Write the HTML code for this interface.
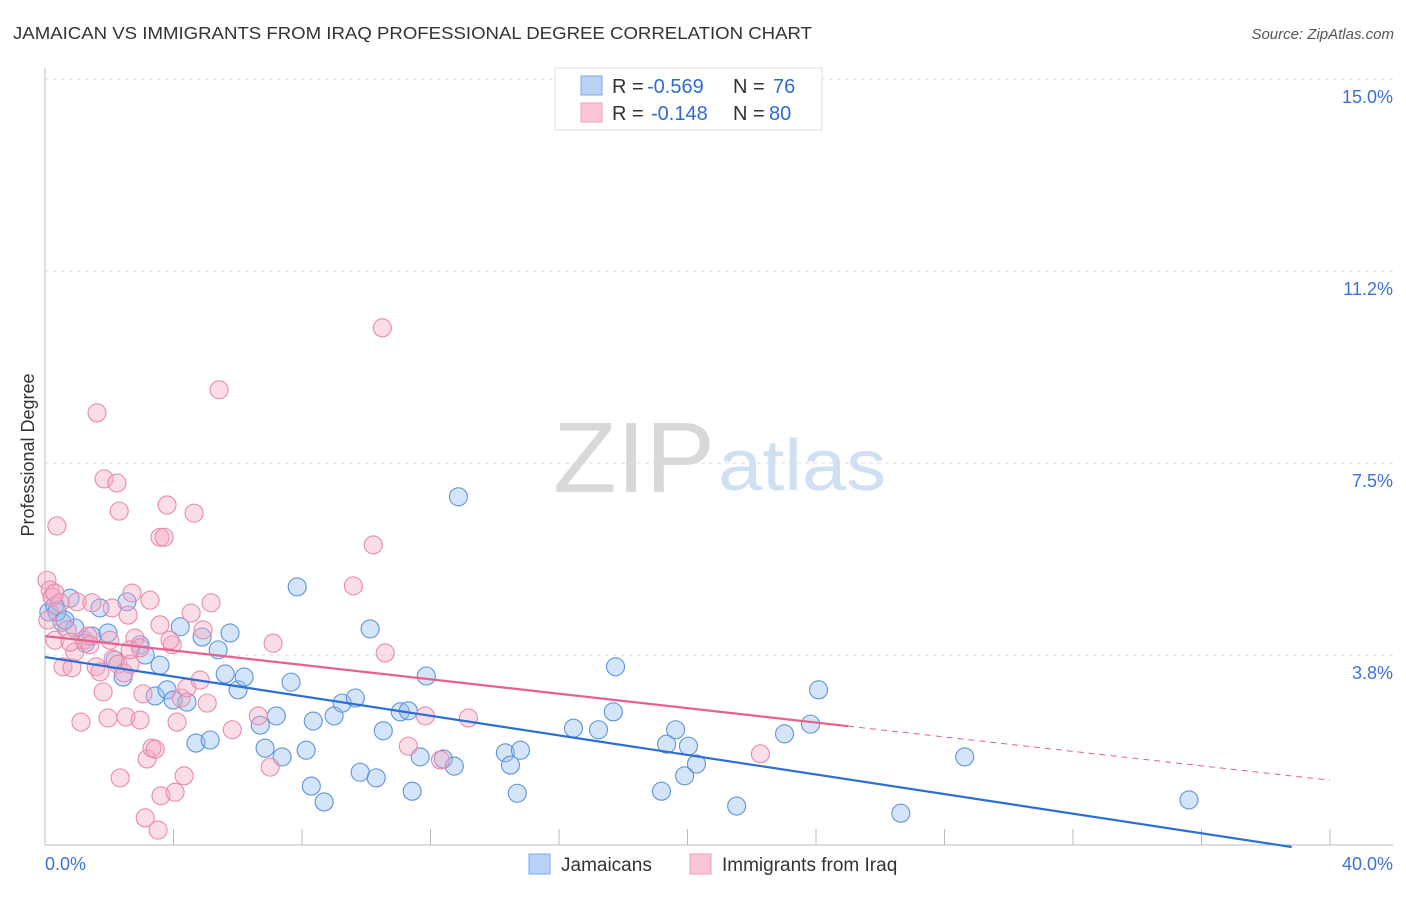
<!DOCTYPE html>
<html><head><meta charset="utf-8"><style>
body{margin:0;background:#fff;font-family:"Liberation Sans",sans-serif;}
svg text{font-family:"Liberation Sans",sans-serif;}
</style></head><body>
<svg id="chart" width="1406" height="892" viewBox="0 0 1406 892" xmlns="http://www.w3.org/2000/svg">
<text x="13" y="39" font-size="17.5" fill="#333" textLength="799" lengthAdjust="spacingAndGlyphs">JAMAICAN VS IMMIGRANTS FROM IRAQ PROFESSIONAL DEGREE CORRELATION CHART</text>
<text x="1394" y="39" font-size="15" fill="#555" font-style="italic" text-anchor="end">Source: ZipAtlas.com</text>
<g>
<text x="553" y="492" font-size="100" fill="#d8d8d8" textLength="162" lengthAdjust="spacingAndGlyphs" font-family="Liberation Serif, serif">ZIP</text>
<text x="718" y="490" font-size="72" fill="#cfe0f4" textLength="168" lengthAdjust="spacingAndGlyphs">atlas</text>
</g>
<g id="grid"></g><g id="axes"></g><g id="marks"></g>
<text transform="translate(34,455) rotate(-90)" font-size="18" fill="#333" text-anchor="middle">Professional Degree</text>
<g>
<rect x="555" y="68" width="267" height="62" fill="#fff" stroke="#ddd"/>
<rect x="581" y="76" width="21" height="19" fill="#b7d2f5" stroke="#7eaae6"/>
<rect x="581" y="103" width="21" height="19" fill="#fac5d4" stroke="#eea0b8"/>
<text x="612" y="93" font-size="20" fill="#333">R = <tspan fill="#2e6bd0" x="647">-0.569</tspan><tspan x="733">N = </tspan><tspan fill="#2e6bd0" x="773">76</tspan></text>
<text x="612" y="120" font-size="20" fill="#333">R = <tspan fill="#2e6bd0" x="651">-0.148</tspan><tspan x="733">N = </tspan><tspan fill="#2e6bd0" x="769">80</tspan></text>
</g>
<g>
<rect x="529" y="854" width="21" height="20" fill="#b7d2f5" stroke="#7eaae6"/>
<text x="561" y="871" font-size="19" fill="#333">Jamaicans</text>
<rect x="690" y="854" width="21" height="20" fill="#fac5d4" stroke="#eea0b8"/>
<text x="722" y="871" font-size="19" fill="#333">Immigrants from Iraq</text>
</g>
</svg>
<script>
const yTicks=[3.75,7.5,11.25,15];
const yTickLabels=["3.8%","7.5%","11.2%","15.0%"];
const blueX=[0.12,0.31,0.53,0.78,0.93,1.25,1.46,1.71,1.96,2.18,2.43,2.55,2.96,3.12,3.43,3.58,3.80,3.99,4.21,4.42,4.70,4.89,5.14,5.39,5.61,5.76,6.01,6.20,6.70,6.85,7.20,7.38,7.66,7.85,8.13,8.29,8.35,8.69,9.00,9.25,9.66,9.81,10.12,10.31,10.53,11.06,11.31,11.43,11.68,11.87,12.40,12.74,12.87,14.33,14.49,14.70,14.80,16.45,17.23,17.69,17.76,19.19,19.35,19.63,19.91,20.03,20.28,21.53,23.02,23.83,24.08,26.64,28.63,35.61,0.37,0.62];
const blueY=[4.59,4.71,4.39,4.86,4.28,3.98,4.12,4.67,4.18,3.65,3.32,4.79,3.95,3.75,2.95,3.55,3.07,2.87,4.30,2.83,2.03,4.10,2.09,3.85,3.38,4.18,3.07,3.32,2.38,1.93,2.56,1.76,3.22,5.08,1.89,1.19,2.46,0.88,2.56,2.81,2.91,1.46,4.26,1.35,2.27,2.64,2.66,1.09,1.76,3.34,1.72,1.58,6.84,1.84,1.60,1.05,1.89,2.32,2.29,2.64,3.52,1.09,2.01,2.29,1.39,1.97,1.62,0.80,2.21,2.40,3.07,0.66,1.76,0.92,4.59,4.43];
const pinkX=[0.06,0.16,0.22,0.31,0.37,0.47,0.56,0.69,0.84,0.93,1.00,1.12,1.21,1.34,1.46,1.59,1.62,1.81,1.84,1.96,2.09,2.12,2.24,2.27,2.31,2.34,2.46,2.52,2.59,2.65,2.71,2.80,2.96,3.05,3.12,3.18,3.27,3.33,3.43,3.58,3.61,3.71,3.52,3.80,3.96,4.05,4.11,4.24,4.33,4.42,4.55,4.64,4.92,5.05,5.17,5.42,5.83,6.64,7.01,7.10,9.60,10.22,10.50,10.59,11.31,11.84,12.31,13.18,22.27,3.58,0.09,0.31,0.78,1.40,2.02,2.65,1.71,2.96,3.89,4.83];
const pinkY=[5.21,5.02,4.88,4.96,6.27,4.77,3.52,4.24,3.50,3.81,4.79,2.44,4.04,4.12,4.77,3.52,8.48,3.03,7.19,2.52,4.67,3.67,7.11,3.57,6.56,1.35,3.40,2.54,4.53,3.57,4.96,4.08,3.89,2.99,0.57,1.72,4.82,1.93,1.91,6.05,1.00,6.05,0.33,6.68,3.95,1.07,2.44,2.91,1.39,3.11,4.57,6.52,4.24,2.81,4.77,8.93,2.29,2.56,1.56,3.98,5.10,5.90,10.14,3.79,1.97,2.56,1.70,2.52,1.82,4.34,4.43,4.04,4.00,3.95,4.04,3.85,3.42,2.48,4.04,3.26];
const blueTrend=[3.71,-0.0956];
const pinkTrend=[4.12,-0.0704];
const pinkSolidEnd=25;
const NS="http://www.w3.org/2000/svg";
const X0=45,PXX=32.125,Y0=847,PXY=51.2;
function sx(v){return X0+v*PXX;}
function sy(v){return Y0-v*PXY;}
function mk(tag,attrs,parent){const e=document.createElementNS(NS,tag);for(const k in attrs)e.setAttribute(k,attrs[k]);parent.appendChild(e);return e;}
const grid=document.getElementById('grid'),axes=document.getElementById('axes'),marks=document.getElementById('marks');
yTicks.forEach((t,i)=>{
 const l=mk('line',{x1:45,x2:1393,y1:sy(t),y2:sy(t),stroke:'#ddd','stroke-dasharray':'4,4'},grid);
 
 
 const tx=mk('text',{x:1393,y:sy(t)+24,'font-size':18,fill:'#3a73d4','text-anchor':'end'},axes);
 tx.textContent=yTickLabels[i];
 
 
});
const la=mk('line',{x1:45,x2:45,y1:68,y2:845,stroke:'#bbb'},axes);


const ba=mk('line',{x1:45,x2:1393,y1:845,y2:845,stroke:'#bbb'},axes);


for(let v=4;v<=40;v+=4){
 const t=mk('line',{x1:sx(v),x2:sx(v),y1:829,y2:845,stroke:'#bbb'},axes);
 
 
}
const xl0=mk('text',{x:45,y:870,'font-size':18,fill:'#3a73d4'},axes);xl0.textContent='0.0%';


const xl1=mk('text',{x:1393,y:870,'font-size':18,fill:'#3a73d4','text-anchor':'end'},axes);xl1.textContent='40.0%';


blueX.forEach((x,i)=>{
 const c=mk('circle',{cx:sx(x),cy:sy(blueY[i]),r:9,fill:'rgba(150,190,240,0.4)',stroke:'#5e93dc','stroke-width':1.1},marks);
 
 
});
pinkX.forEach((x,i)=>{
 const c=mk('circle',{cx:sx(x),cy:sy(pinkY[i]),r:9,fill:'rgba(245,170,195,0.4)',stroke:'#e98aab','stroke-width':1.1},marks);
 
 
});
const bEnd=-blueTrend[0]/blueTrend[1];
const bl=mk('line',{x1:sx(0),y1:sy(blueTrend[0]),x2:sx(bEnd),y2:sy(0),stroke:'#2b6fd6','stroke-width':2.2},marks);


const pl=mk('line',{x1:sx(0),y1:sy(pinkTrend[0]),x2:sx(pinkSolidEnd),y2:sy(pinkTrend[0]+pinkTrend[1]*pinkSolidEnd),stroke:'#e8608c','stroke-width':2.2},marks);


const pd=mk('line',{x1:sx(pinkSolidEnd),y1:sy(pinkTrend[0]+pinkTrend[1]*pinkSolidEnd),x2:sx(40),y2:sy(pinkTrend[0]+pinkTrend[1]*40),stroke:'#e8608c','stroke-width':1,'stroke-dasharray':'6,5'},marks);


</script>
</body></html>
